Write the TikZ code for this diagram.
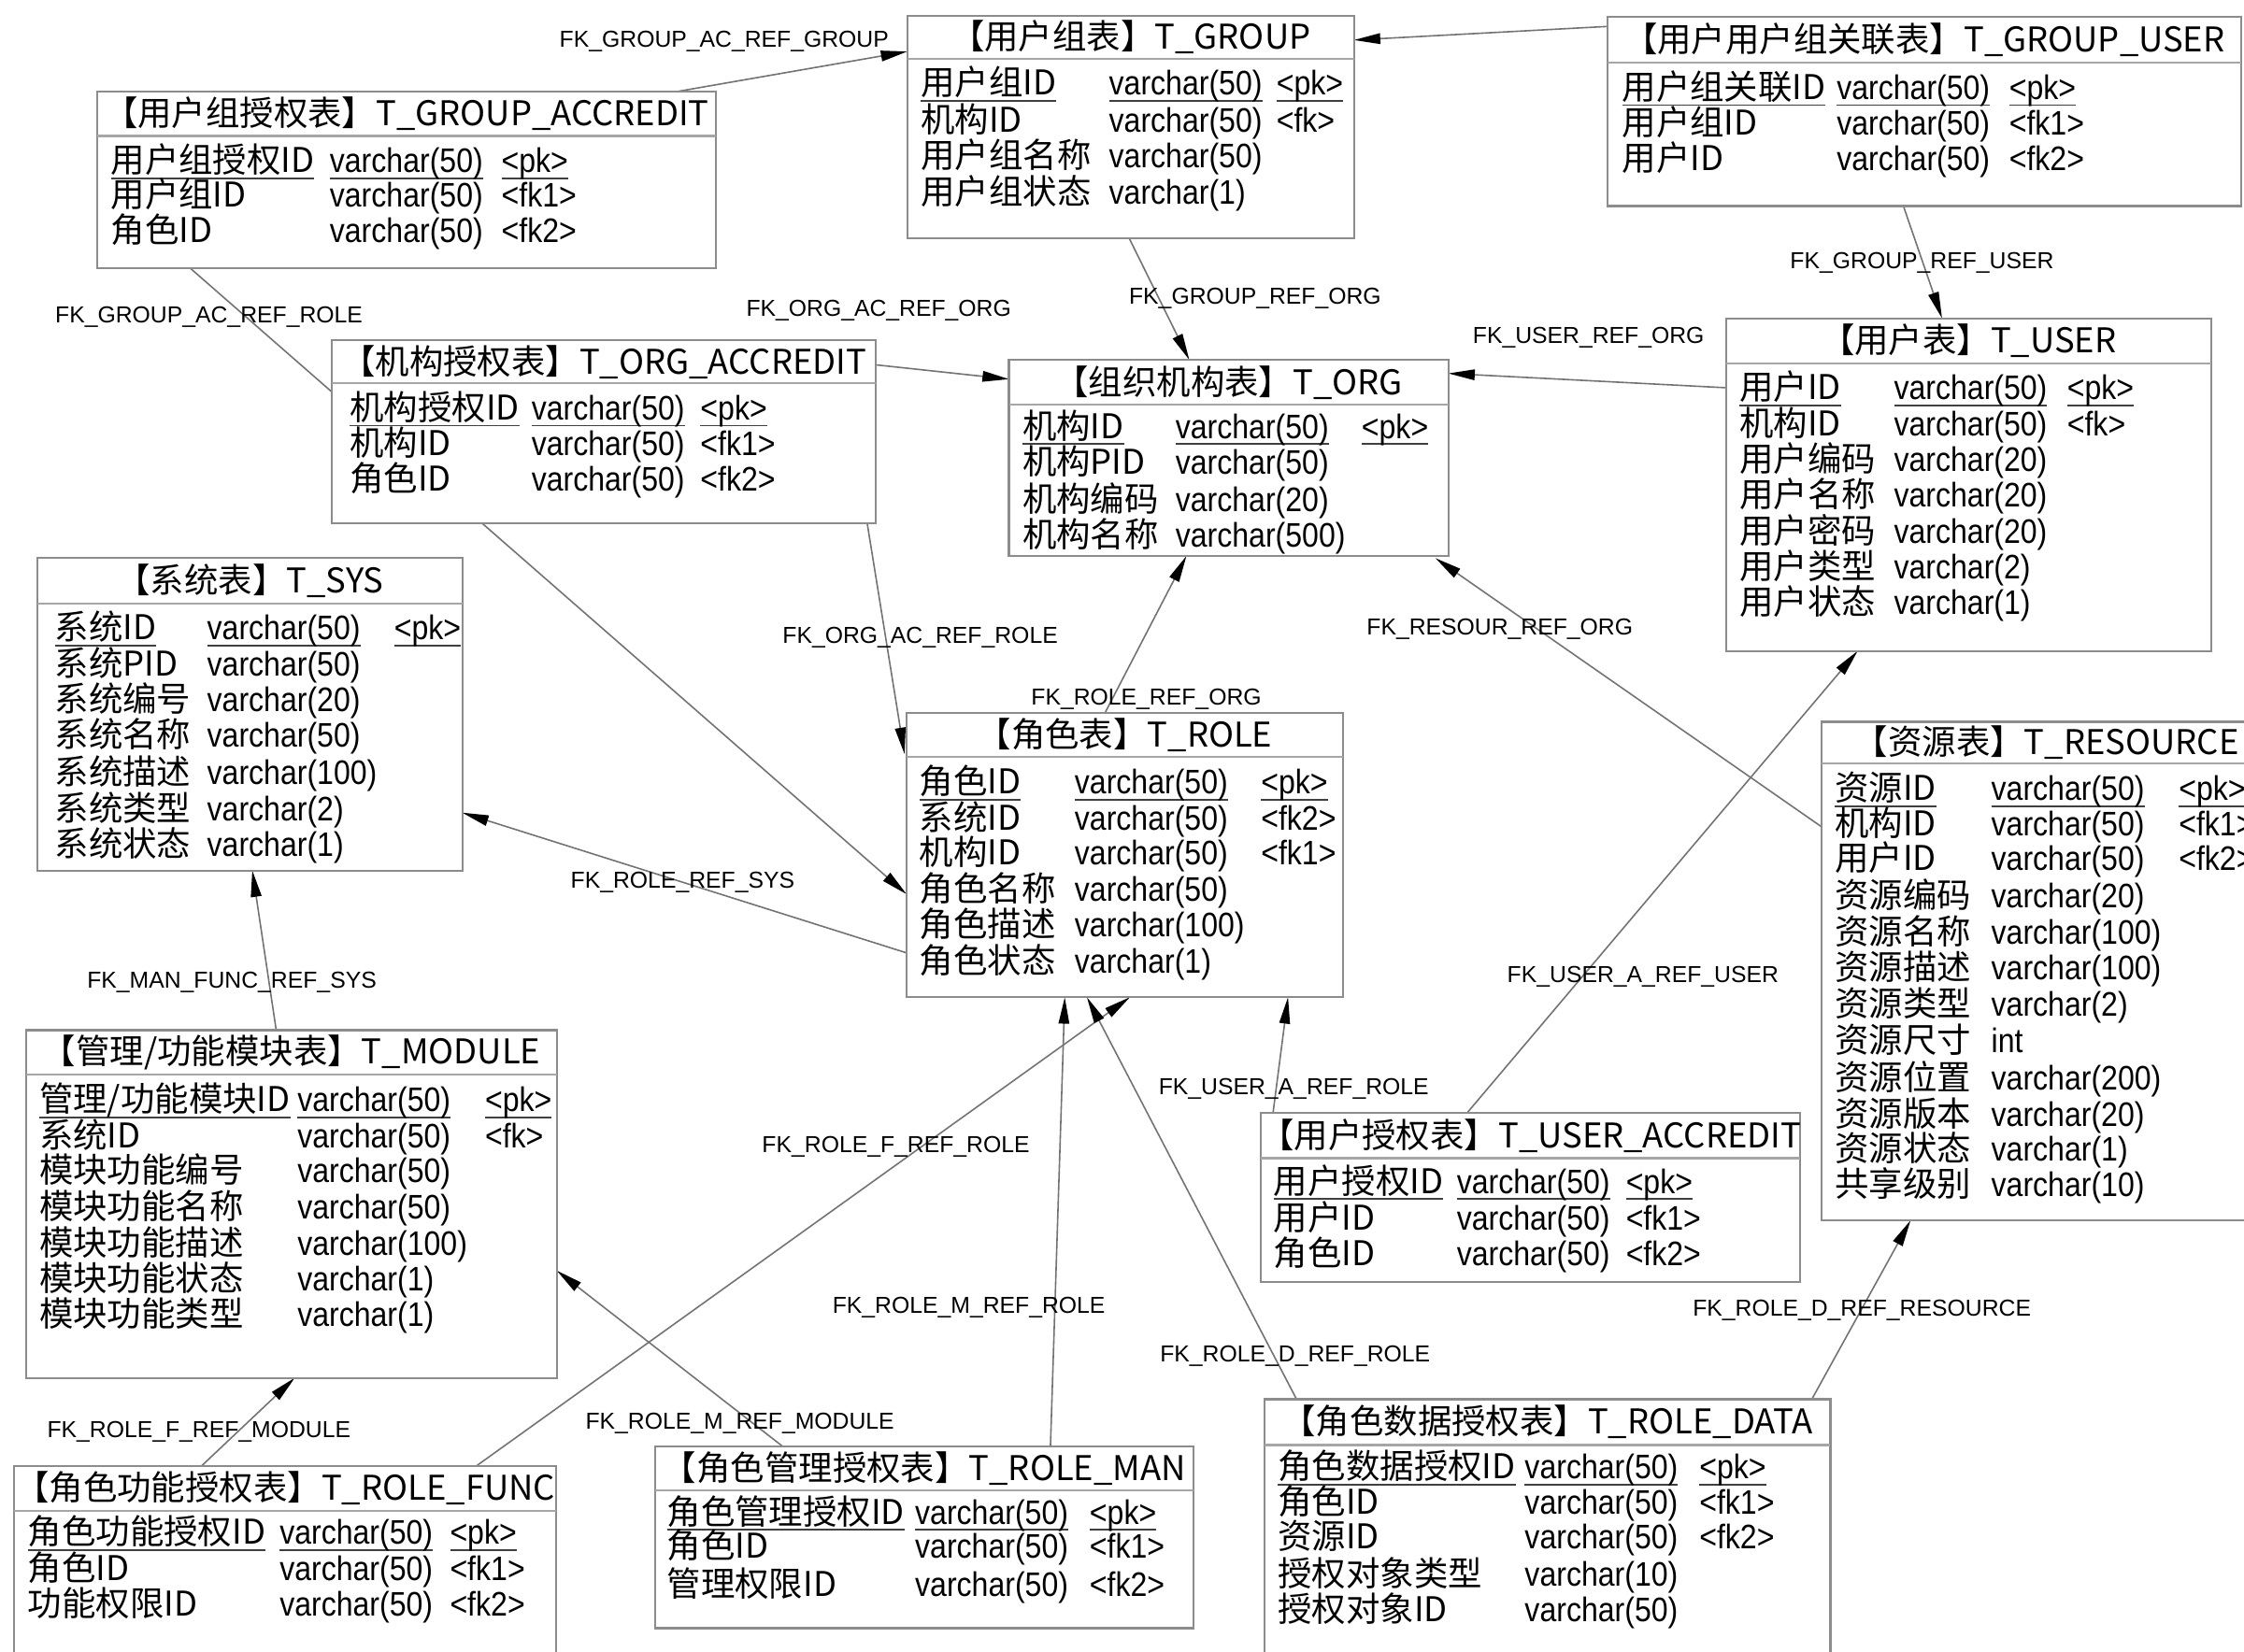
\documentclass[tikz,border=0pt]{standalone}
\usepackage{fontspec}
\setmainfont{Noto Sans CJK SC}
\newfontfamily\lblfont{Liberation Sans}
\newfontfamily\latfont{Liberation Sans}[FakeStretch=0.88]
\usetikzlibrary{calc,fit,arrows.meta}
\pgfdeclarelayer{canvas}
\pgfdeclarelayer{links}
\pgfsetlayers{canvas,links,main}
\newcounter{cellno}
\newcommand\tabfont{\fontsize{10.3}{12}\selectfont}
\newcommand\pkul[1]{\setbox0=\hbox{#1}\rlap{\color{black!75}\rule[-2pt]{\wd0}{0.55pt}}\box0}
\tikzset{
  entbox/.style={draw=black!45, line width=0.6pt, fill=white, inner sep=0pt, outer sep=0pt},
  seprule/.style={draw=black!35, line width=0.6pt},
  ttl/.style={font=\tabfont, inner sep=0pt, anchor=center},
  cell/.style={font=\tabfont, inner sep=0pt, anchor=base west},
  cellL/.style={font={\latfont\tabfont}, inner sep=0pt, anchor=base west},
  fk/.style={draw=black!55, line width=0.45pt, -{Triangle[length=8pt,width=3.2pt,color=black]}},
  fklbl/.style={font=\lblfont\fontsize{7}{8}\selectfont, inner sep=0pt, anchor=base},
}
% #1 name, #2 x1, #3 y1, #4 x2, #5 y2, #6 separator y, #7 title
\newcommand\ent[7]{%
  \node[entbox, fit={(#2,#3) (#4,#5)}] (#1) {};
  \draw[seprule] ($(#1.north west)+(0,#6-#3)$) -- ($(#1.north east)+(0,#6-#3)$);
  \node[ttl] (#1-title) at ({(#2+#4)/2},{(#3+#6)/2}) {#7};
}
\newcommand\cols[3]{\def\cA{#1}\def\cB{#2}\def\cC{#3}}
\newcommand\cellat[4]{%
  \if\relax\detokenize{#4}\relax\else
  \stepcounter{cellno}\node[#1] (cell\arabic{cellno}) at (#2,#3+8.5) {#4};\fi}
\newcommand\row[4]{\cellat{cell}{\cA}{#1}{#2}\cellat{cellL}{\cB}{#1}{#3}\cellat{cellL}{\cC}{#1}{#4}}
\newcommand\pkrow[4]{\cellat{cell}{\cA}{#1}{\pkul{#2}}\cellat{cellL}{\cB}{#1}{\pkul{#3}}\cellat{cellL}{\cC}{#1}{\pkul{#4}}}
\newcommand\lbl[4]{\node[fklbl] (#1) at (#2,#3+5.8) {#4};}

\begin{document}
\begin{tikzpicture}[x=0.433pt, y=-0.433pt]
\useasboundingbox (0,0) rectangle (1568,1154);
\begin{pgfonlayer}{canvas}
  \fill[white] (0,0) rectangle (1568,1154);
\end{pgfonlayer}

% ---------- T_GROUP_ACCREDIT
\ent{TGA}{68}{64}{500}{187.5}{95}{【用户组授权表】T\_GROUP\_ACCREDIT}
\cols{77}{230}{350}
\pkrow{112}{用户组授权ID}{varchar(50)}{<pk>}
\row{136}{用户组ID}{varchar(50)}{<fk1>}
\row{161}{角色ID}{varchar(50)}{<fk2>}

% ---------- T_GROUP
\ent{TG}{634}{11}{946}{166.5}{41}{【用户组表】T\_GROUP}
\cols{643}{774.5}{891.5}
\pkrow{58}{用户组ID}{varchar(50)}{<pk>}
\row{84}{机构ID}{varchar(50)}{<fk>}
\row{109}{用户组名称}{varchar(50)}{}
\row{134}{用户组状态}{varchar(1)}{}

% ---------- T_GROUP_USER
\ent{TGU}{1123}{12}{1566}{144}{43.6}{【用户用户组关联表】T\_GROUP\_USER}
\cols{1133}{1283}{1403.5}
\pkrow{61}{用户组关联ID}{varchar(50)}{<pk>}
\row{86}{用户组ID}{varchar(50)}{<fk1>}
\row{111}{用户ID}{varchar(50)}{<fk2>}

% ---------- T_ORG_ACCREDIT
\ent{TOA}{232}{238}{612}{366}{268}{【机构授权表】T\_ORG\_ACCREDIT}
\cols{244}{371}{489}
\pkrow{285}{机构授权ID}{varchar(50)}{<pk>}
\row{310}{机构ID}{varchar(50)}{<fk1>}
\row{335}{角色ID}{varchar(50)}{<fk2>}

% ---------- T_ORG
\ent{TO}{705}{251.5}{1012}{388.6}{283}{【组织机构表】T\_ORG}
\cols{714}{821}{951}
\pkrow{298}{机构ID}{varchar(50)}{<pk>}
\row{323}{机构PID}{varchar(50)}{}
\row{349}{机构编码}{varchar(20)}{}
\row{374}{机构名称}{varchar(500)}{}

% ---------- T_USER
\ent{TU}{1206}{222.5}{1545}{455}{254}{【用户表】T\_USER}
\cols{1215}{1323}{1444}
\pkrow{271}{用户ID}{varchar(50)}{<pk>}
\row{296}{机构ID}{varchar(50)}{<fk>}
\row{321}{用户编码}{varchar(20)}{}
\row{346}{用户名称}{varchar(20)}{}
\row{371}{用户密码}{varchar(20)}{}
\row{396}{用户类型}{varchar(2)}{}
\row{421}{用户状态}{varchar(1)}{}

% ---------- T_SYS
\ent{TS}{26.3}{389.7}{323}{608.4}{422}{【系统表】T\_SYS}
\cols{37.8}{144.3}{275}
\pkrow{438.6}{系统ID}{varchar(50)}{<pk>}
\row{463.7}{系统PID}{varchar(50)}{}
\row{488.8}{系统编号}{varchar(20)}{}
\row{513.7}{系统名称}{varchar(50)}{}
\row{539.8}{系统描述}{varchar(100)}{}
\row{565}{系统类型}{varchar(2)}{}
\row{590}{系统状态}{varchar(1)}{}

% ---------- T_ROLE
\ent{TR}{633.5}{498.5}{938.5}{697}{529}{【角色表】T\_ROLE}
\cols{642}{750.5}{880.7}
\pkrow{546.5}{角色ID}{varchar(50)}{<pk>}
\row{571.5}{系统ID}{varchar(50)}{<fk2>}
\row{596}{机构ID}{varchar(50)}{<fk1>}
\row{621.6}{角色名称}{varchar(50)}{}
\row{646.5}{角色描述}{varchar(100)}{}
\row{671.5}{角色状态}{varchar(1)}{}

% ---------- T_RESOURCE
\ent{TRES}{1273}{504.5}{1587}{853}{533.6}{【资源表】T\_RESOURCE}
\cols{1281.8}{1391}{1522}
\pkrow{551}{资源ID}{varchar(50)}{<pk>}
\row{575.5}{机构ID}{varchar(50)}{<fk1>}
\row{600}{用户ID}{varchar(50)}{<fk2>}
\row{625.7}{资源编码}{varchar(20)}{}
\row{651.4}{资源名称}{varchar(100)}{}
\row{676}{资源描述}{varchar(100)}{}
\row{701.4}{资源类型}{varchar(2)}{}
\row{727}{资源尺寸}{int}{}
\row{753}{资源位置}{varchar(200)}{}
\row{778.5}{资源版本}{varchar(20)}{}
\row{803}{资源状态}{varchar(1)}{}
\row{827.5}{共享级别}{varchar(10)}{}

% ---------- T_MODULE
\ent{TM}{18}{720}{389}{963}{751}{【管理/功能模块表】T\_MODULE}
\cols{27}{207.4}{338.5}
\pkrow{768.5}{管理/功能模块ID}{varchar(50)}{<pk>}
\row{793.5}{系统ID}{varchar(50)}{<fk>}
\row{818}{模块功能编号}{varchar(50)}{}
\row{843.5}{模块功能名称}{varchar(50)}{}
\row{868.6}{模块功能描述}{varchar(100)}{}
\row{893.5}{模块功能状态}{varchar(1)}{}
\row{918.6}{模块功能类型}{varchar(1)}{}

% ---------- T_USER_ACCREDIT
\ent{TUA}{881}{778}{1258}{896}{809.5}{【用户授权表】T\_USER\_ACCREDIT}
\cols{889.5}{1017.5}{1135.7}
\pkrow{825.5}{用户授权ID}{varchar(50)}{<pk>}
\row{851}{用户ID}{varchar(50)}{<fk1>}
\row{876}{角色ID}{varchar(50)}{<fk2>}

% ---------- T_ROLE_FUNC
\ent{TRF}{9.7}{1024.7}{388.8}{1160}{1056}{【角色功能授权表】T\_ROLE\_FUNC}
\cols{19}{195}{314}
\pkrow{1071}{角色功能授权ID}{varchar(50)}{<pk>}
\row{1096}{角色ID}{varchar(50)}{<fk1>}
\row{1121}{功能权限ID}{varchar(50)}{<fk2>}

% ---------- T_ROLE_MAN
\ent{TRM}{457.6}{1011}{834}{1138}{1041.6}{【角色管理授权表】T\_ROLE\_MAN}
\cols{465.6}{639}{761}
\pkrow{1056.7}{角色管理授权ID}{varchar(50)}{<pk>}
\row{1080.8}{角色ID}{varchar(50)}{<fk1>}
\row{1107}{管理权限ID}{varchar(50)}{<fk2>}

% ---------- T_ROLE_DATA
\ent{TRD}{883.5}{978}{1279}{1160}{1010}{【角色数据授权表】T\_ROLE\_DATA}
\cols{892.5}{1065}{1187}
\pkrow{1025}{角色数据授权ID}{varchar(50)}{<pk>}
\row{1050}{角色ID}{varchar(50)}{<fk1>}
\row{1074}{资源ID}{varchar(50)}{<fk2>}
\row{1100}{授权对象类型}{varchar(10)}{}
\row{1125}{授权对象ID}{varchar(50)}{}

% ---------- connectors
\begin{pgfonlayer}{links}
\draw[fk] ($(TGA.north west)+(405,0)$) -- ($(TG.north west)+(0,25)$);
\draw[fk] ($(TGU.north west)+(0,6.5)$) -- ($(TG.north east)+(0,17)$);
\draw[fk] ($(TGU.south west)+(207,0)$) -- ($(TU.north west)+(151,0)$);
\draw[fk] ($(TG.south west)+(155,0)$) -- ($(TO.north west)+(126,0)$);
\draw[fk] ($(TOA.north east)+(0,17)$) -- ($(TO.north west)+(0,13.5)$);
\draw[fk] ($(TU.north west)+(0,48.5)$) -- ($(TO.north east)+(0,9.5)$);
\draw[fk] ($(TGA.south west)+(65,0)$) -- ($(TR.north west)+(0,126.5)$);
\draw[fk] ($(TOA.south west)+(374,0)$) -- ($(TR.north west)+(-1.5,28.5)$);
\draw[fk] ($(TR.north west)+(138.5,0)$) -- ($(TO.south west)+(124,0)$);
\draw[fk] ($(TRES.north west)+(0,73.5)$) -- ($(TO.south east)+(-9,1.5)$);
\draw[fk] ($(TUA.north west)+(144,0)$) -- ($(TU.south west)+(92,0)$);
\draw[fk] ($(TUA.north west)+(8.5,0)$) -- ($(TR.south west)+(266.5,0)$);
\draw[fk] ($(TR.north west)+(0,167.5)$) -- ($(TS.north east)+(0,178.3)$);
\draw[fk] ($(TM.north west)+(175,0)$) -- ($(TS.south west)+(150,0)$);
\draw[fk] ($(TRF.north west)+(131,0)$) -- ($(TM.south west)+(188,0)$);
\draw[fk] ($(TRF.north west)+(323,0)$) -- ($(TR.south west)+(156,0)$);
\draw[fk] ($(TRM.north west)+(89.4,0)$) -- ($(TM.north east)+(0,168)$);
\draw[fk] ($(TRM.north west)+(276.4,0)$) -- ($(TR.south west)+(110.5,0)$);
\draw[fk] ($(TRD.north west)+(22.5,0)$) -- ($(TR.south west)+(126,0)$);
\draw[fk] ($(TRD.north west)+(382.5,0)$) -- ($(TRES.south west)+(62,0)$);
\end{pgfonlayer}

% ---------- labels
\lbl{l1}{506}{27}{FK\_GROUP\_AC\_REF\_GROUP}
\lbl{l2}{146}{220}{FK\_GROUP\_AC\_REF\_ROLE}
\lbl{l3}{614}{215}{FK\_ORG\_AC\_REF\_ORG}
\lbl{l4}{877}{207}{FK\_GROUP\_REF\_ORG}
\lbl{l5}{1110}{234}{FK\_USER\_REF\_ORG}
\lbl{l6}{1343}{182}{FK\_GROUP\_REF\_USER}
\lbl{l7}{643}{444}{FK\_ORG\_AC\_REF\_ROLE}
\lbl{l8}{1048}{438}{FK\_RESOUR\_REF\_ORG}
\lbl{l9}{801}{487}{FK\_ROLE\_REF\_ORG}
\lbl{l10}{477}{615}{FK\_ROLE\_REF\_SYS}
\lbl{l11}{162}{685}{FK\_MAN\_FUNC\_REF\_SYS}
\lbl{l12}{1148}{681}{FK\_USER\_A\_REF\_USER}
\lbl{l13}{904}{759}{FK\_USER\_A\_REF\_ROLE}
\lbl{l14}{626}{800}{FK\_ROLE\_F\_REF\_ROLE}
\lbl{l15}{677}{912}{FK\_ROLE\_M\_REF\_ROLE}
\lbl{l16}{905}{946}{FK\_ROLE\_D\_REF\_ROLE}
\lbl{l17}{1301}{914}{FK\_ROLE\_D\_REF\_RESOURCE}
\lbl{l18}{139}{999}{FK\_ROLE\_F\_REF\_MODULE}
\lbl{l19}{517}{993}{FK\_ROLE\_M\_REF\_MODULE}
\end{tikzpicture}
\end{document}
